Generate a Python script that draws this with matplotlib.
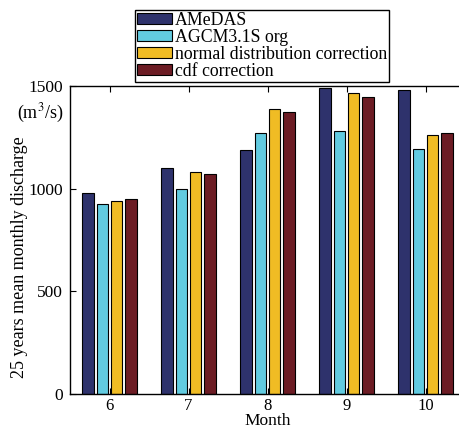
import numpy as np
from matplotlib import pyplot as plt

plt.rcParams['font.family'] = ['Liberation Serif', 'DejaVu Serif']
plt.rcParams['mathtext.fontset'] = 'stix'

months = [6, 7, 8, 9, 10]
series_names = ['AMeDAS', 'AGCM3.1S org', 'normal distribution correction', 'cdf correction']
amedas = [977, 1099, 1190, 1489, 1482]
agcm_org = [927, 1000, 1271, 1283, 1192]
normal_corr = [942, 1080, 1390, 1468, 1263]
cdf_corr = [951, 1070, 1374, 1448, 1271]
colors = ['#2E326C', '#62CBE0', '#F0BC24', '#6C1C24']

fig = plt.figure(figsize=(4.59, 4.29), dpi=100)
ax = fig.add_axes([70 / 459, 1 - 394 / 429, 395 / 459, 308 / 429])

x = np.arange(len(months))
pitch = 0.182
width = 0.146
all_series = [amedas, agcm_org, normal_corr, cdf_corr]
handles = []
for i, vals in enumerate(all_series):
    b = ax.bar(x + (i - 1.5) * pitch, vals, width, color=colors[i],
               edgecolor='black', linewidth=0.8, label=series_names[i])
    handles.append(b)

ax.set_xlim(-0.5, len(months) - 0.5)
ax.set_ylim(0, 1500)
ax.set_xticks(x)
ax.set_xticklabels([str(m) for m in months])
ax.set_yticks([0, 500, 1000, 1500])
ax.tick_params(direction='in', top=True, right=True, labelsize=12.5, length=4,
               pad=5)
ax.tick_params(axis='x', pad=3, labelsize=12)
for s in ax.spines.values():
    s.set_linewidth(1.0)

ax.set_xlabel('Month', fontsize=12.5, labelpad=-1)
fig.text(20 / 459, 1 - 257 / 429, '25 years mean monthly discharge',
         rotation=90, ha='center', va='center', fontsize=13)
fig.text(40 / 459, 1 - 113 / 429, '(m$^3$/s)', ha='center', va='center',
         fontsize=13)

fig.legend(handles=handles, loc='upper left',
           bbox_to_anchor=(135 / 459, 1 - 10 / 429), fontsize=12.8,
           frameon=True, fancybox=False, edgecolor='black', framealpha=1,
           borderpad=0.1, labelspacing=0.0, handlelength=2.0,
           handleheight=0.55, handletextpad=0.15, borderaxespad=0)

fig.savefig('out.png', dpi=100)
